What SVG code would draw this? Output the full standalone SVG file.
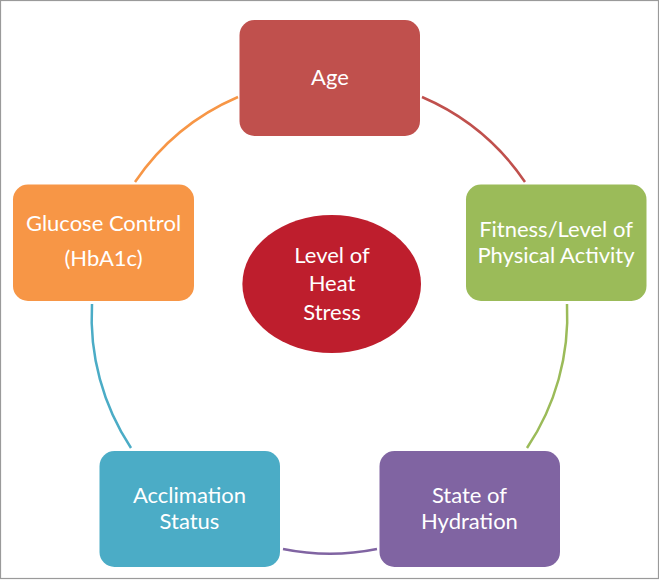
<svg xmlns="http://www.w3.org/2000/svg" width="659" height="580" viewBox="0 0 659 580">
<style>
.lbl{font-family:Lato,"Liberation Sans",sans-serif;font-size:22px;fill:#ffffff;text-anchor:middle}
.arc{fill:none;stroke-width:2.5}
</style>
<rect x="0.5" y="0.5" width="658" height="578" fill="#ffffff" stroke="#9a9a9a" stroke-width="1.2"/>
<g id="connectors">
<path class="arc" stroke="#C0504D" d="M422,97 A237,237 0 0 1 525,182"/>
<path class="arc" stroke="#9BBB59" d="M567,304 A237,237 0 0 1 527,448"/>
<path class="arc" stroke="#8064A2" d="M377,549 A237,237 0 0 1 283,549"/>
<path class="arc" stroke="#4BACC6" d="M131,448 A237,237 0 0 1 92,304"/>
<path class="arc" stroke="#F79646" d="M135,182 A237,237 0 0 1 238,97"/>
</g>
<g id="age">
<rect x="239.5" y="20" width="180.5" height="116" rx="15" fill="#C0504D"/>
<text class="lbl" x="330" y="85">Age</text>
</g>
<g id="fitness">
<rect x="466" y="184.5" width="180.5" height="116.5" rx="15" fill="#9BBB59"/>
<text class="lbl" x="556" y="236.5">Fitness/Level of</text>
<text class="lbl" x="556" y="262.5">Physical Activity</text>
</g>
<g id="hydration">
<rect x="379.5" y="451" width="180.5" height="116" rx="15" fill="#8064A2"/>
<text class="lbl" x="469.5" y="502.5">State of</text>
<text class="lbl" x="469.5" y="529">Hydration</text>
</g>
<g id="acclimation">
<rect x="99.5" y="451" width="180.5" height="116" rx="15" fill="#4BACC6"/>
<text class="lbl" x="189.5" y="502.5">Acclimation</text>
<text class="lbl" x="189.5" y="529">Status</text>
</g>
<g id="glucose">
<rect x="13" y="184.5" width="181" height="116.5" rx="15" fill="#F79646"/>
<text class="lbl" x="103.5" y="230.5">Glucose Control</text>
<text class="lbl" x="103.5" y="266">(HbA1c)</text>
</g>
<g id="heat-stress">
<ellipse cx="331.7" cy="284" rx="89.3" ry="69" fill="#BE1E2D"/>
<text class="lbl" x="332" y="262.5">Level of</text>
<text class="lbl" x="332" y="291">Heat</text>
<text class="lbl" x="332" y="320">Stress</text>
</g>
</svg>
